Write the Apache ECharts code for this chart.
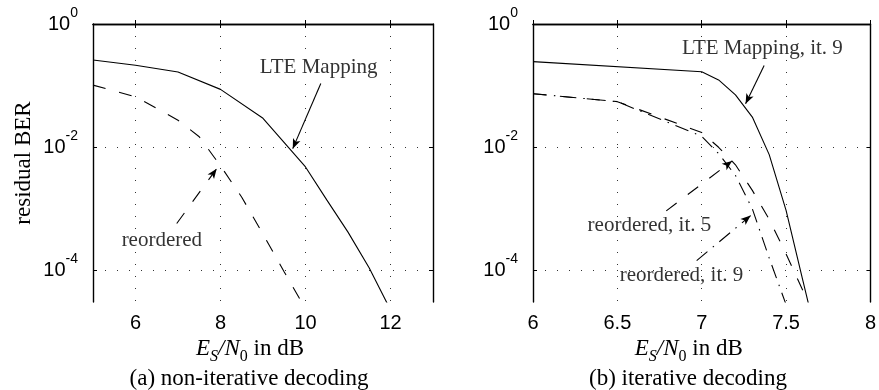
<!DOCTYPE html>
<html>
<head>
<meta charset="utf-8">
<script src="https://cdn.jsdelivr.net/npm/echarts@6/dist/echarts.min.js"></script>
<style>
html, body { margin: 0; padding: 0; background: #fff; }
#chart { width: 879px; height: 390px; }
</style>
</head>
<body>
<div id="chart"></div>
<script>
// (a) non-iterative decoding
var snrLteA = [5, 6, 7, 8, 9, 10, 10.5, 11, 11.5, 12];
var berLteA = [0.26, 0.214, 0.166, 0.087, 0.0295, 4.8e-3, 1.4e-3, 4.2e-4, 1.1e-4, 2.3e-5];
var snrReoA = [5, 6, 7, 7.5, 8, 8.5, 9, 9.5, 10];
var berReoA = [0.102, 0.066, 0.0275, 0.0148, 5.0e-3, 1.55e-3, 3.9e-4, 9.5e-5, 2.4e-5];

// (b) iterative decoding
var snrLteB = [6, 7, 7.1, 7.2, 7.3, 7.4, 7.5, 7.6, 7.7];
var berLteB = [0.245, 0.168, 0.124, 0.071, 0.0309, 7.6e-3, 9.5e-4, 6.8e-5, 5e-6];
var snrReo5 = [6, 6.5, 7, 7.1, 7.2, 7.3, 7.4, 7.5, 7.6, 7.7];
var berReo5 = [0.074, 0.055, 0.0174, 0.01, 5.2e-3, 2.0e-3, 6.8e-4, 1.86e-4, 4.7e-5, 1.1e-5];
var snrReo9 = [6, 6.5, 7, 7.1, 7.2, 7.3, 7.4, 7.5, 7.6];
var berReo9 = [0.074, 0.055, 0.0151, 7.9e-3, 3.5e-3, 1.0e-3, 1.6e-4, 2.8e-5, 5e-6];

var xTicksA = [6, 8, 10, 12];
var xTicksB = [6, 6.5, 7, 7.5, 8];
var yTicks = [0, -2, -4]; // exponents of 10

// annotations: [text, x, ber] and arrows [x1, ber1, x2, ber2]
var noteLteA = ['LTE Mapping', 10.31, 0.196];
var arrowLteA = [10.36, 0.108, 9.70, 9.5e-3];
var noteReoA = ['reordered', 6.62, 3.1e-4];
var arrowReoA = [6.97, 5.8e-4, 7.91, 4.5e-3];
var noteLteB = ['LTE Mapping, it. 9', 7.36, 0.40];
var arrowLteB = [7.37, 0.212, 7.26, 0.051];
var noteReo5 = ['reordered, it. 5', 6.69, 5.4e-4];
var arrowReo5 = [6.79, 9.3e-4, 7.18, 6.0e-3];
var noteReo9 = ['reordered, it. 9', 6.88, 8.3e-5];
var arrowReo9 = [6.97, 1.45e-4, 7.29, 7.8e-4];

var serif = 'Liberation Serif';
var sans = 'Liberation Sans';
var lg = function (v) { return Math.log10(v); };
var pts = function (xs, ys) { return xs.map(function (x, i) { return [x, lg(ys[i])]; }); };

var dashed = [13, 14];
var dashDot = [14, 7, 1.5, 7];

function note(n) {
    return {
        coord: [n[1], lg(n[2])],
        label: { show: true, position: 'inside', formatter: n[0], fontFamily: serif, fontSize: 21, color: '#333' }
    };
}
function arrow(a) {
    return [{ coord: [a[0], lg(a[1])] }, { coord: [a[2], lg(a[3])] }];
}
function curve(xs, ys, type, gi, extra) {
    var s = {
        type: 'line', xAxisIndex: gi * 2, yAxisIndex: gi * 2, data: pts(xs, ys),
        showSymbol: false, silent: true, animation: false,
        lineStyle: { color: '#000', width: 1.1, type: type }
    };
    if (extra) {
        if (extra.arrow) {
            s.markLine = {
                silent: true, animation: false, symbol: ['none', 'arrow'], symbolSize: [6, 10],
                label: { show: false },
                lineStyle: { color: '#000', width: 1.1, type: type },
                emphasis: { disabled: true },
                data: [arrow(extra.arrow)]
            };
        }
        if (extra.note) {
            s.markPoint = {
                silent: true, animation: false, symbol: 'rect', symbolSize: 1,
                itemStyle: { color: 'rgba(0,0,0,0)' },
                data: [note(extra.note)]
            };
        }
    }
    return s;
}

var yLabelRich = {
    b: { fontFamily: sans, fontSize: 20, color: '#000' },
    s: { fontFamily: sans, fontSize: 14, color: '#000', padding: [0, 0, 22, 0] }
};
var xNameRich = {
    i: { fontFamily: serif, fontStyle: 'italic', fontSize: 23, color: '#000' },
    is: { fontFamily: serif, fontStyle: 'italic', fontSize: 16, color: '#000', padding: [14, 0, 0, 0] },
    ns: { fontFamily: serif, fontSize: 16, color: '#000', padding: [14, 0, 0, 0] },
    r: { fontFamily: serif, fontSize: 23, color: '#000' }
};
var dotted = { show: true, lineStyle: { color: '#333', width: 1, type: [1, 11] } };

function xAxes(gi, min, max, ticks) {
    return [{
        type: 'value', gridIndex: gi, min: min, max: max, position: 'bottom',
        axisLine: { lineStyle: { color: '#000', width: 1.4 } },
        axisTick: { inside: true, length: 4, customValues: ticks, lineStyle: { color: '#000' } },
        axisLabel: { customValues: ticks, margin: 11, fontFamily: sans, fontSize: 20, color: '#000' },
        splitLine: dotted,
        name: '{i|E}{is|S}{i|/N}{ns|0}{r| in dB}', nameLocation: 'middle', nameGap: 31,
        nameTextStyle: { fontFamily: serif, fontSize: 23, color: '#000', padding: [0, 26, 0, 0], rich: xNameRich }
    }, {
        type: 'value', gridIndex: gi, min: min, max: max, position: 'top',
        axisLine: { lineStyle: { color: '#000', width: 1.4 } },
        axisTick: { inside: true, length: 4, customValues: ticks, lineStyle: { color: '#000' } },
        axisLabel: { show: false }, splitLine: { show: false }
    }];
}
function yAxes(gi, withName) {
    var main = {
        type: 'value', gridIndex: gi, min: -4.51, max: 0, position: 'left',
        axisLine: { show: true, lineStyle: { color: '#000', width: 1.4 } },
        axisTick: { show: true, inside: true, length: 4, customValues: yTicks, lineStyle: { color: '#000' } },
        axisLabel: {
            customValues: yTicks, margin: 15,
            formatter: function (v) { return '{b|10}{s|' + (v === 0 ? '0' : '-' + Math.abs(v)) + '}'; },
            rich: yLabelRich
        },
        splitLine: dotted
    };
    if (withName) {
        main.name = 'residual BER';
        main.nameLocation = 'middle';
        main.nameGap = 58;
        main.nameTextStyle = { fontFamily: serif, fontSize: 23, color: '#000' };
    }
    return [main, {
        type: 'value', gridIndex: gi, min: -4.51, max: 0, position: 'right',
        axisLine: { show: true, lineStyle: { color: '#000', width: 1.4 } },
        axisTick: { show: true, inside: true, length: 4, customValues: yTicks, lineStyle: { color: '#000' } },
        axisLabel: { show: false }, splitLine: { show: false }
    }];
}

var chart = echarts.init(document.getElementById('chart'), null, { renderer: 'canvas' });
var option = {
    animation: false,
    backgroundColor: '#fff',
    grid: [
        { left: 93, right: 446, top: 24, bottom: 88 },
        { left: 533, right: 6, top: 24, bottom: 88 }
    ],
    xAxis: xAxes(0, 5, 13, xTicksA).concat(xAxes(1, 6, 8, xTicksB)),
    yAxis: yAxes(0, true).concat(yAxes(1, false)),
    graphic: [
        { type: 'text', x: 249, y: 379, style: { text: '(a) non-iterative decoding', font: '23px "Liberation Serif"', fill: '#000', align: 'center', verticalAlign: 'middle' } },
        { type: 'text', x: 688, y: 379, style: { text: '(b) iterative decoding', font: '23px "Liberation Serif"', fill: '#000', align: 'center', verticalAlign: 'middle' } }
    ],
    series: [
        curve(snrLteA, berLteA, 'solid', 0, { arrow: arrowLteA, note: noteLteA }),
        curve(snrReoA, berReoA, dashed, 0, { arrow: arrowReoA, note: noteReoA }),
        curve(snrLteB, berLteB, 'solid', 1, { arrow: arrowLteB, note: noteLteB }),
        curve(snrReo5, berReo5, dashed, 1, { arrow: arrowReo5, note: noteReo5 }),
        curve(snrReo9, berReo9, dashDot, 1, { arrow: arrowReo9, note: noteReo9 })
    ]
};
chart.setOption(option);
</script>
</body>
</html>
